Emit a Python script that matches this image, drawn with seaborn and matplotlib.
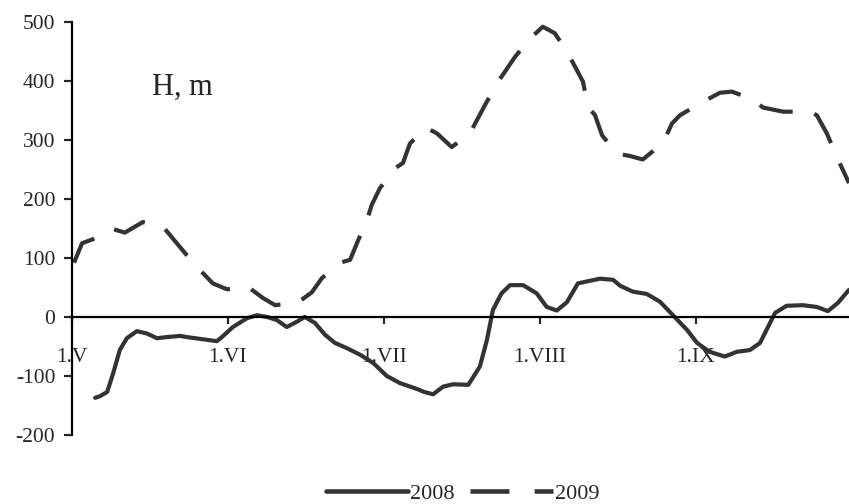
import numpy as np
import pandas as pd
import matplotlib
matplotlib.use('Agg')
import matplotlib.pyplot as plt
import seaborn as sb
from matplotlib.lines import Line2D

# days counted from 1 May
day_2008 = [4.6, 5.6, 7.0, 8.2, 9.5, 10.9, 12.9, 14.9, 16.9, 18.9, 21.5, 22.8, 25.4, 28.8,
            29.8, 32.0, 34.8, 36.8, 38.8, 40.7, 42.7, 44.7, 46.3, 48.3, 50.3, 52.3, 54.7,
            57.3, 59.9, 62.6, 65.2, 68.6, 70.0, 71.8, 73.8, 75.8, 78.8, 81.1, 82.5, 83.7,
            85.4, 87.1, 89.7, 92.4, 94.4, 96.4, 98.4, 100.6, 105.0, 107.6, 109.0, 111.5,
            114.3, 116.9, 119.5, 122.3, 124.3, 126.8, 129.8, 132.2, 134.8, 136.8, 139.8,
            142.1, 145.3, 148.1, 150.3, 152.3, 154.5]
h_2008 = [-137, -134, -127, -95, -56, -36, -24, -28, -36, -34, -32, -34, -37, -41,
          -34, -17, -2, 3, 0, -5, -17, -8, 0, -10, -30, -44, -53,
          -64, -78, -100, -112, -122, -127, -131, -118, -114, -115, -84, -39, 12,
          40, 54, 54, 40, 17, 11, 25, 57, 65, 63, 53, 43,
          39, 26, 3, -22, -44, -59, -67, -59, -56, -44, 7,
          19, 20, 17, 10, 24, 46]

day_2009 = [0.4, 2.0, 4.2, 8.2, 10.5, 14.1, 18.1, 22.8, 25.4, 28.0, 30.8, 35.0, 38.0,
            40.4, 45.0, 47.7, 49.7, 53.3, 55.3, 56.9, 58.8, 59.6, 61.2, 64.2, 65.8,
            67.2, 70.4, 72.6, 75.5, 79.1, 82.1, 84.5, 88.1, 91.1, 93.6, 96.0, 98.6,
            101.6, 102.6, 104.0, 105.4, 108.3, 110.9, 113.5, 117.5, 119.3, 120.9,
            124.9, 128.8, 131.2, 135.4, 137.4, 141.4, 146.7, 148.1, 150.1, 152.1, 154.5]
h_2009 = [92, 125, 132, 149, 143, 161, 153, 105, 80, 57, 47, 51, 32,
          20, 25, 42, 66, 92, 97, 130, 168, 190, 218, 252, 261,
          294, 321, 311, 288, 311, 359, 396, 441, 472, 492, 481, 447,
          399, 356, 342, 308, 277, 273, 267, 295, 328, 342,
          362, 380, 382, 369, 355, 348, 348, 342, 311, 271, 227]

month_ticks = [0, 31, 62, 93, 124]
month_labels = ['1.V', '1.VI', '1.VII', '1.VIII', '1.IX']
y_ticks = [-200, -100, 0, 100, 200, 300, 400, 500]

sb.set_style('ticks')
plt.rcParams['font.family'] = ['Liberation Serif', 'DejaVu Serif']
plt.rcParams['axes.unicode_minus'] = False

df = pd.concat([
    pd.DataFrame({'day': day_2008, 'H': h_2008, 'year': '2008'}),
    pd.DataFrame({'day': day_2009, 'H': h_2009, 'year': '2009'}),
])

line_col = '#333333'
dash = (8.2, 5.3)

fig = plt.figure(figsize=(8.49, 5.04), dpi=100)
ax = fig.add_axes([72 / 849, 1 - 435 / 504, 1 - 72 / 849, (435 - 22) / 504])

sb.lineplot(data=df, x='day', y='H', style='year', dashes={'2008': '', '2009': dash},
            color=line_col, linewidth=3, estimator=None, legend=False, ax=ax)
for ln in ax.get_lines():
    ln.set_dash_capstyle('butt')
    ln.set_solid_capstyle('round')
    ln.set_solid_joinstyle('round')

ax.set_xlim(0, 154.5)
ax.set_ylim(-200, 500)
ax.spines['bottom'].set_position(('data', 0))
ax.spines['right'].set_visible(False)
ax.spines['top'].set_visible(False)
for s in ['left', 'bottom']:
    ax.spines[s].set_linewidth(1.6)
    ax.spines[s].set_color('black')

ax.set_xticks(month_ticks)
ax.set_xticklabels(month_labels)
ax.set_yticks(y_ticks)
ax.tick_params(axis='x', direction='out', length=5, width=1.6, pad=17, labelsize=15.5)
ax.tick_params(axis='y', direction='out', length=6, width=1.6, pad=6, labelsize=15.5)
ax.set_xlabel('')
ax.set_ylabel('')

fig.text(152 / 849, 1 - 87 / 504, 'H, m', fontsize=22, va='center', ha='left')

handles = [Line2D([], [], color=line_col, lw=3.3),
           Line2D([], [], color=line_col, lw=3.3, dashes=(8.5, 5.5), dash_capstyle='butt')]
fig.legend(handles, ['2008', '2009'], loc='center', bbox_to_anchor=(0.545, 0.02),
           ncol=2, frameon=False, fontsize=16, handlelength=3.7, handletextpad=0.1,
           columnspacing=0.7, borderpad=0)

fig.savefig('out.png', dpi=100)
